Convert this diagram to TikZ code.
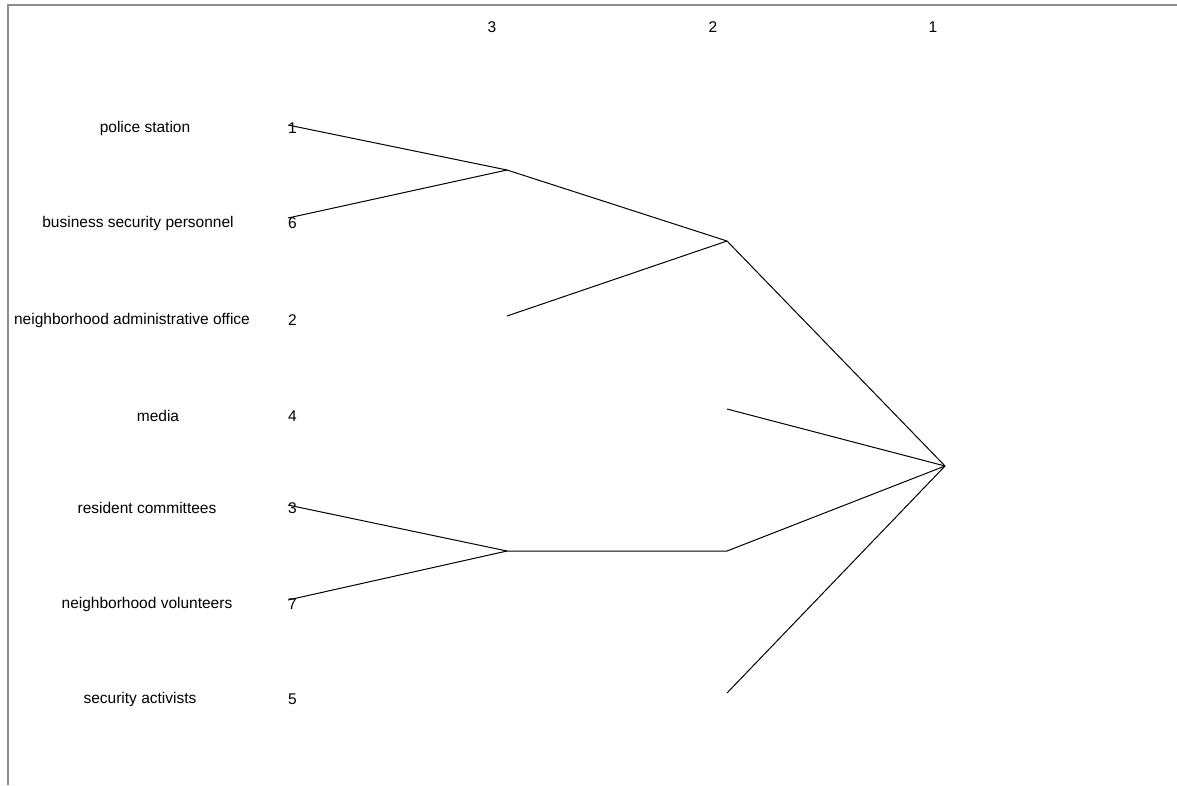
\documentclass[tikz,border=0pt]{standalone}
\usepackage{fontspec}
\setmainfont{Liberation Sans}
\begin{document}
\begin{tikzpicture}[x=1pt,y=-1pt,
  lbl/.style={font=\fontsize{15.5}{18}\selectfont, inner sep=0pt, anchor=center},
  num/.style={font=\fontsize{15.5}{18}\selectfont, inner sep=0pt, anchor=west},
  link/.style={draw=black, line width=1pt},
  frame/.style={draw=gray!90, line width=1.6pt}]
\useasboundingbox (0,0) rectangle (1177,785);
\fill[white] (0,0) rectangle (1177,785);
\draw[frame] (8,785) -- (8,5) -- (1177,5);
% level headers
\node[lbl] (h3) at (492,27) {3};
\node[lbl] (h2) at (713,27) {2};
\node[lbl] (h1) at (933,27) {1};
% row labels
\node[lbl] (l1) at (145,128) {police station};
\node[lbl] (l6) at (138,223) {business security personnel};
\node[lbl] (l2) at (132,320) {neighborhood administrative office};
\node[lbl] (l4) at (158,416) {media};
\node[lbl] (l3) at (147,508) {resident committees};
\node[lbl] (l7) at (147,604) {neighborhood volunteers};
\node[lbl] (l5) at (140,699) {security activists};
% numbers
\node[num] (n1) at (288,128) {1};
\node[num] (n6) at (288,223) {6};
\node[num] (n2) at (288,320) {2};
\node[num] (n4) at (288,416) {4};
\node[num] (n3) at (288,508) {3};
\node[num] (n7) at (288,604) {7};
\node[num] (n5) at (288,699) {5};
% joins and free ends
\coordinate (a) at (507,170);
\coordinate (b) at (727,241);
\coordinate (c) at (507,551);
\coordinate (d) at (727,551);
\coordinate (r) at (945,466);
\coordinate (e2) at (507,316);
\coordinate (e4) at (727,409);
\coordinate (e5) at (727,693);
\coordinate (p1) at (288,125);
\coordinate (p6) at (288,218);
\coordinate (p3) at (288,505);
\coordinate (p7) at (288,600);
% connectors
\draw[link] (p1) -- (a);
\draw[link] (p6) -- (a);
\draw[link] (a) -- (b);
\draw[link] (e2) -- (b);
\draw[link] (b) -- (r);
\draw[link] (e4) -- (r);
\draw[link] (p3) -- (c);
\draw[link] (p7) -- (c);
\draw[link] (c) -- (d) -- (r);
\draw[link] (e5) -- (r);
\end{tikzpicture}
\end{document}
